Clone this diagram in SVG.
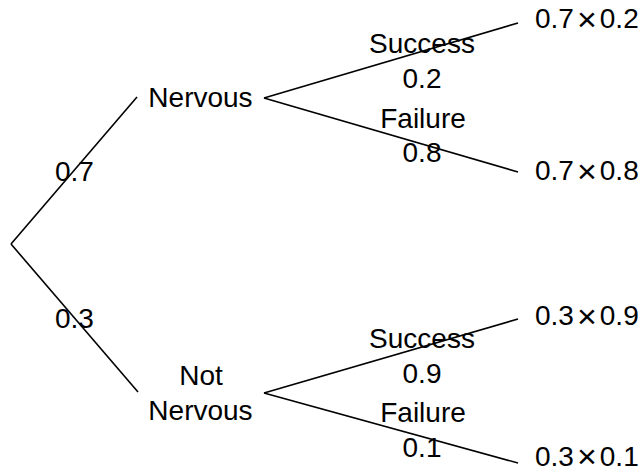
<svg xmlns="http://www.w3.org/2000/svg" width="644" height="475" viewBox="0 0 644 475">
<style>
text{font-family:"Liberation Sans",Arial,sans-serif;font-size:28px;fill:#000}
.m{text-anchor:middle}
.x{font-size:34px}
line{stroke:#000;stroke-width:1.6;fill:none}
</style>
<rect width="644" height="475" fill="#fff"/>
<g id="connectors">
<line x1="11" y1="244" x2="137" y2="97"/>
<line x1="11" y1="244" x2="138" y2="392"/>
<line x1="264" y1="98" x2="518" y2="23"/>
<line x1="264" y1="98" x2="518" y2="172"/>
<line x1="264" y1="393" x2="518" y2="319"/>
<line x1="264" y1="393" x2="518" y2="463"/>
</g>
<g id="edge-labels">
<text x="55" y="181">0.7</text>
<text x="55" y="328">0.3</text>
<text class="m" x="422" y="53">Success</text>
<text class="m" x="422" y="88">0.2</text>
<text class="m" x="423" y="128">Failure</text>
<text class="m" x="422" y="162">0.8</text>
<text class="m" x="422" y="348">Success</text>
<text class="m" x="422" y="383">0.9</text>
<text class="m" x="423" y="422">Failure</text>
<text class="m" x="422" y="457">0.1</text>
</g>
<g id="node-nervous"><text class="m" x="200.5" y="107">Nervous</text></g>
<g id="node-not-nervous"><text class="m" x="201" y="385">Not</text><text class="m" x="200.5" y="420">Nervous</text></g>
<g id="leaf-1"><text x="535" y="28">0.7<tspan class="x" dx="3" dy="3">×</tspan><tspan dx="3" dy="-3">0.2</tspan></text></g>
<g id="leaf-2"><text x="535" y="180">0.7<tspan class="x" dx="3" dy="3">×</tspan><tspan dx="3" dy="-3">0.8</tspan></text></g>
<g id="leaf-3"><text x="535" y="325">0.3<tspan class="x" dx="3" dy="3">×</tspan><tspan dx="3" dy="-3">0.9</tspan></text></g>
<g id="leaf-4"><text x="535" y="466">0.3<tspan class="x" dx="3" dy="2">×</tspan><tspan dx="3" dy="-2">0.1</tspan></text></g>
</svg>
